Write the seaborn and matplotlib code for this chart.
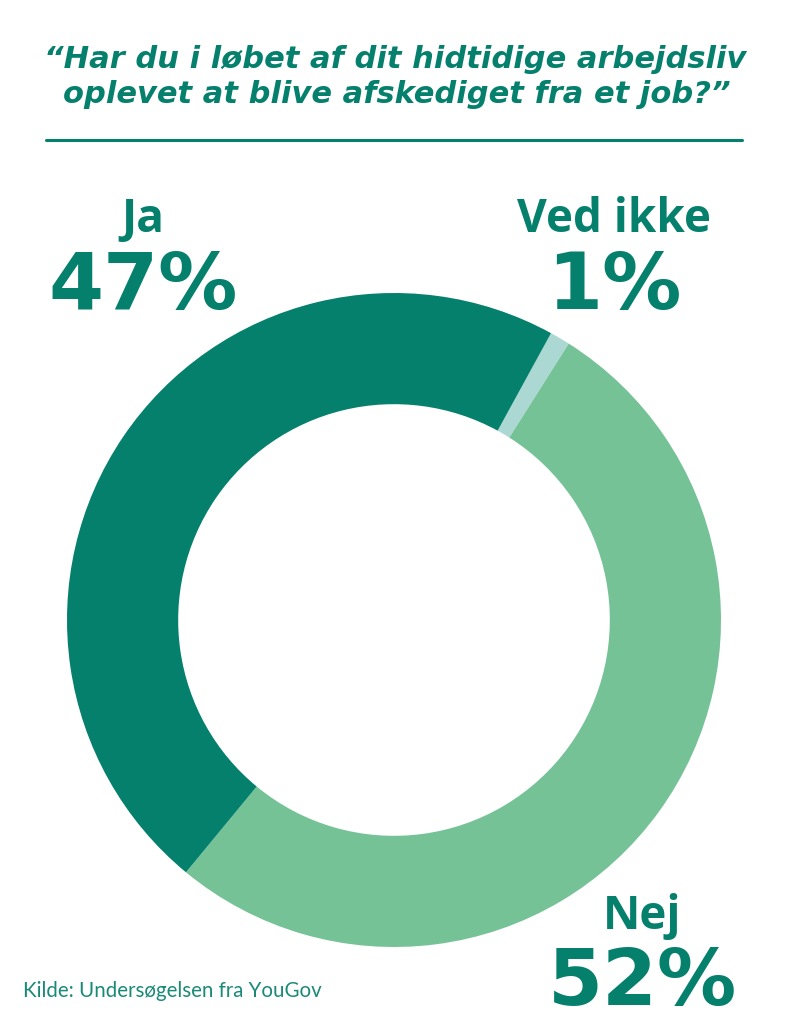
import matplotlib
matplotlib.use("Agg")
import matplotlib.pyplot as plt
import seaborn as sns

# ---- data ----
categories = ["Ved ikke", "Nej", "Ja"]
values = [1, 52, 47]
colors = ["#ABD8D2", "#76C297", "#05806D"]
title_lines = ["\u201cHar du i løbet af dit hidtidige arbejdsliv",
               "oplevet at blive afskediget fra et job?\u201d"]
label_names = ["Ja", "Ved ikke", "Nej"]
label_pcts = ["47%", "1%", "52%"]
source = "Kilde: Undersøgelsen fra YouGov"

sns.set_theme(style="white")
plt.rcParams["font.family"] = ["DejaVu Sans"]

W, H = 788, 1024
fig = plt.figure(figsize=(W / 100, H / 100), dpi=100)
fig.patch.set_facecolor("white")

def fx(px):
    return px / W

def fy(py):
    return 1 - py / H

TEAL = "#05806D"

# donut
cx, cy, R = 394, 620, 327
ax = fig.add_axes([fx(cx - R), fy(cy + R), 2 * R / W, 2 * R / H])
ax.pie(values, colors=colors, startangle=61.3, counterclock=False,
       radius=1.0, wedgeprops=dict(width=0.34, linewidth=0))
ax.set_xlim(-1, 1)
ax.set_ylim(-1, 1)
ax.set_aspect("equal")
ax.axis("off")

# title
fig.text(fx(395), fy(68), title_lines[0], ha="center", va="baseline",
         fontsize=22, fontweight="bold", fontstyle="italic", color=TEAL,
         family=["DejaVu Sans"])
fig.text(fx(397), fy(103), title_lines[1], ha="center", va="baseline",
         fontsize=22, fontweight="bold", fontstyle="italic", color=TEAL,
         family=["DejaVu Sans"])
fig.add_artist(plt.Line2D([fx(46), fx(742)], [fy(140), fy(140)],
                          color=TEAL, linewidth=2.2))

# labels
label_pos = [(143, 232, 309), (614, 232, 309), (642, 929, 1005)]
for name, pct, (x, yn, yp) in zip(label_names, label_pcts, label_pos):
    fig.text(fx(x), fy(yn), name, ha="center", va="baseline",
             fontsize=33, fontweight="bold", color=TEAL,
             family=["Open Sans", "DejaVu Sans"])
    fig.text(fx(x), fy(yp), pct, ha="center", va="baseline",
             fontsize=57, fontweight="bold", color=TEAL,
             family=["DejaVu Sans"])

fig.text(fx(23), fy(997), source, ha="left", va="baseline",
         fontsize=14.8, color="#1A8A78", family=["Lato", "DejaVu Sans"])

fig.savefig("out.png", dpi=100, facecolor="white")
